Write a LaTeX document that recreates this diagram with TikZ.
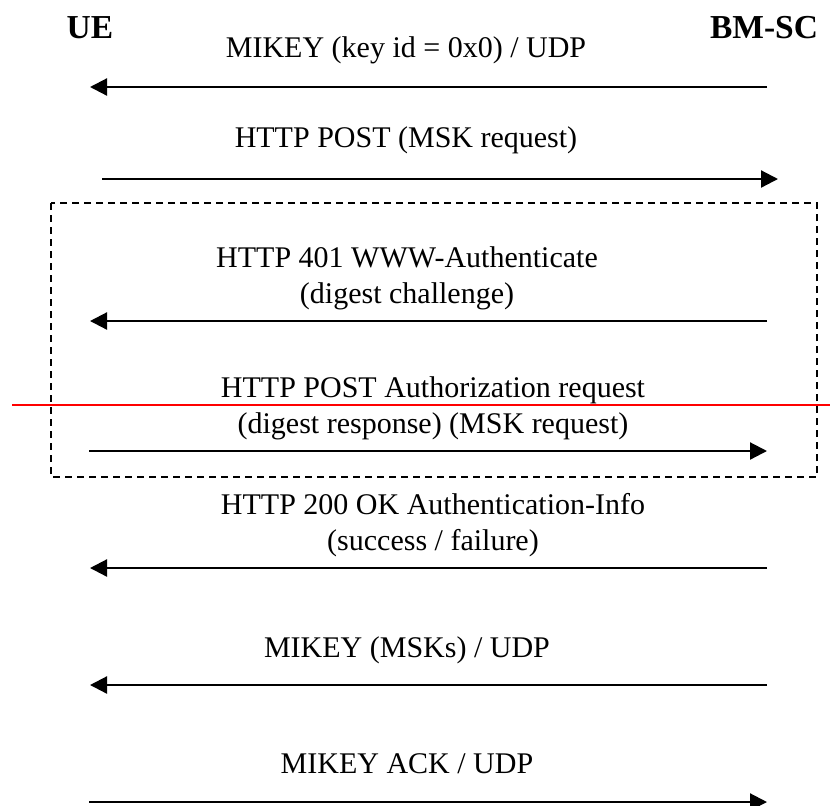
\documentclass[tikz,border=0pt]{standalone}
\usepackage{fontspec}
\setmainfont{Liberation Serif}
\usetikzlibrary{arrows.meta}
\tikzset{
  msg/.style={font=\fontsize{15}{18}\selectfont, inner sep=0pt, anchor=base, align=center},
  party/.style={font=\fontsize{16.75}{20}\selectfont\bfseries, inner sep=0pt, anchor=base},
  flow/.style={line width=1.1pt, -{Triangle[length=8.5pt,width=8.5pt]}},
  group/.style={dashed, dash pattern=on 3.5pt off 2.5pt, line width=1pt}
}
\begin{document}
\begin{tikzpicture}[x=0.5pt,y=-0.5pt]
			% --- Parameters ---
			\def\xUE{90}        % UE side of the arrows
			\def\xBM{767}       % BM-SC side of the arrows
			\useasboundingbox (0,0) rectangle (830,805);
			% Parties
			\node[party] (ue) at (\xUE,38) {UE};
			\node[party] (bmsc) at (764,38) {BM-SC};
			% --- Messages ---
			\node[msg] (mikeyzero) at (406,57) {MIKEY (key id = 0x0) / UDP};
			\coordinate (bmA) at (\xBM,87);
			\coordinate (ueA) at (\xUE,87);
			\draw[flow] (bmA) -- (ueA);
			\node[msg] (mskreq) at (406,147) {HTTP POST (MSK request)};
			\coordinate (ueB) at (102,179);
			\coordinate (bmB) at (778,179);
			\draw[flow] (ueB) -- (bmB);
			% --- Authentication (dashed box) ---
			\draw[group] (51,203) rectangle (817,477);
			% two-line labels: base is the last line
			\node[msg] (challenge) at (407,303) {HTTP 401 WWW-Authenticate\\(digest challenge)};
			\coordinate (bmC) at (\xBM,321);
			\coordinate (ueC) at (\xUE,321);
			\draw[flow] (bmC) -- (ueC);
			\node[msg] (response) at (433,433) {HTTP POST Authorization request\\(digest response) (MSK request)};
			\coordinate (ueD) at (89,451);
			\coordinate (bmD) at (\xBM,451);
			\draw[flow] (ueD) -- (bmD);
			% red marker line
			\draw[red, line width=1pt] (12,404.5) -- (830,404.5);
			% --- Result and keys ---
			\node[msg] (authinfo) at (433,550) {HTTP 200 OK Authentication-Info\\(success / failure)};
			\coordinate (bmE) at (\xBM,568);
			\coordinate (ueE) at (\xUE,568);
			\draw[flow] (bmE) -- (ueE);
			\node[msg] (mikeymsk) at (407,657) {MIKEY (MSKs) / UDP};
			\coordinate (bmF) at (\xBM,685);
			\coordinate (ueF) at (\xUE,685);
			\draw[flow] (bmF) -- (ueF);
			\node[msg] (mikeyack) at (407,773) {MIKEY ACK / UDP};
			\coordinate (ueG) at (89,802);
			\coordinate (bmG) at (\xBM,802);
			\draw[flow] (ueG) -- (bmG);
\end{tikzpicture}
\end{document}
